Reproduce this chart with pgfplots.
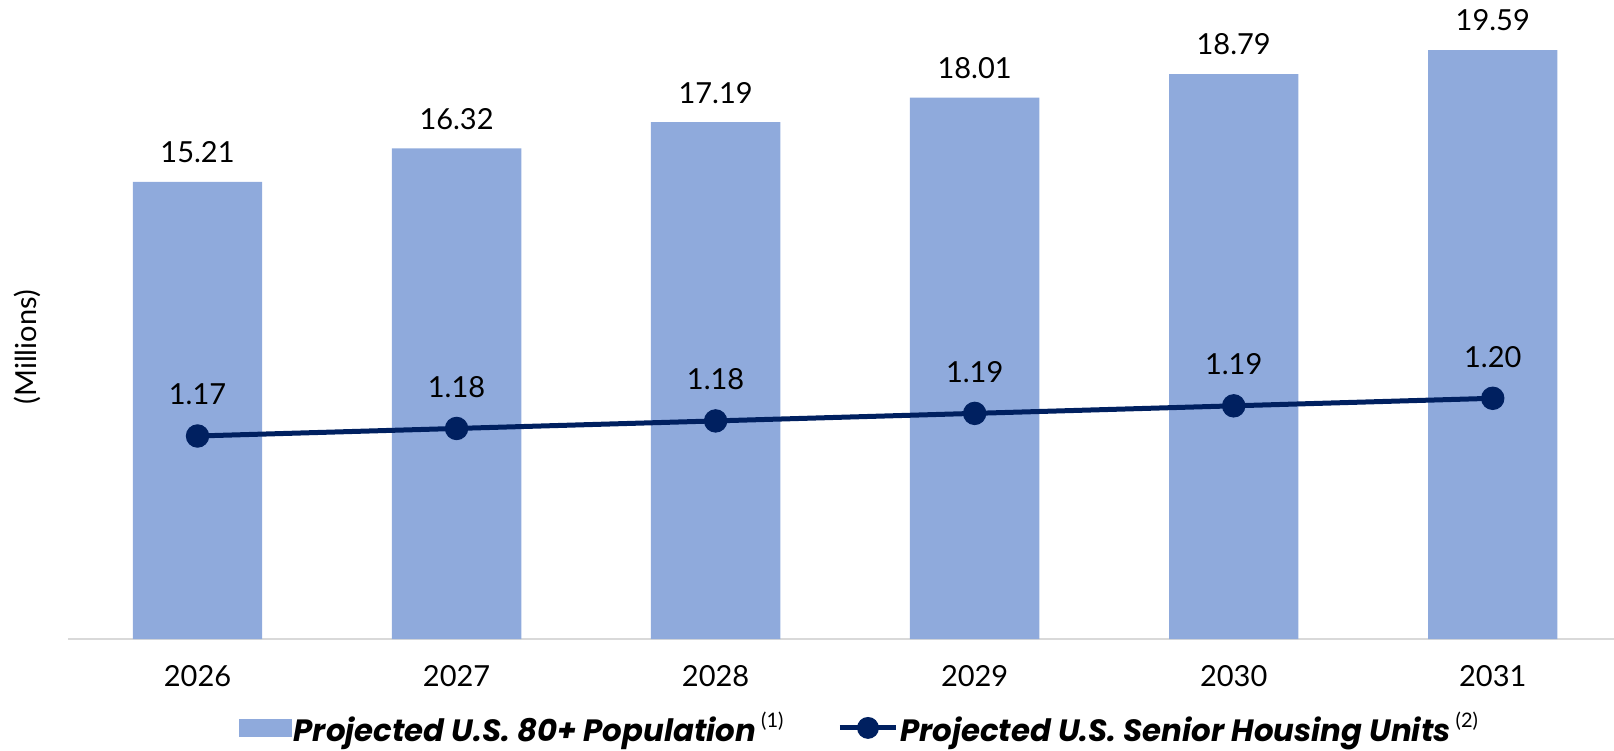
\documentclass[border=0pt]{standalone}
\usepackage{fontspec}
\setmainfont{Lato}
\newfontfamily\popfont{Poppins}
\usepackage{pgfplots}
\usepackage{pgfplotstable}
\pgfplotsset{compat=1.18}

\definecolor{barblue}{HTML}{8FAADC}
\definecolor{navy}{HTML}{002060}
\definecolor{axisgray}{HTML}{D9D9D9}

\newcommand\numfont{\fontsize{14.5bp}{17bp}\selectfont}
\newcommand\legfont{\popfont\fontsize{15.4bp}{18bp}\selectfont\bfseries\itshape}
\newcommand\note[1]{\hspace{2.5bp}\raisebox{7bp}{\rmfamily\fontsize{10bp}{11bp}\selectfont\mdseries\upshape(#1)}}

% Projected U.S. 80+ population (millions)
\pgfplotstableread{
idx year pop
0 2026 15.21
1 2027 16.32
2 2028 17.19
3 2029 18.01
4 2030 18.79
5 2031 19.59
}\poptable

% Projected U.S. senior housing units (millions)
\pgfplotstableread{
idx year units
0 2026 1.170
1 2027 1.176
2 2028 1.182
3 2029 1.188
4 2030 1.194
5 2031 1.200
}\unitstable

\begin{document}
\begin{tikzpicture}
\pgfplotsset{
  plotframe/.style={scale only axis, width=773.25bp, height=318.65bp,
    xmin=-0.5, xmax=5.47, clip=false},
  /pgf/number format/.cd, fixed, fixed zerofill, precision=2, assume math mode=true,
}
% population bars on the primary axis
\begin{axis}[plotframe, name=main,
  ymin=0, ymax=21.2,
  ybar, bar width=64.7bp,
  axis x line*=bottom, axis y line=none,
  axis line style={draw=axisgray, line width=1bp, -},
  xtick={0,...,5}, xticklabels={2026,2027,2028,2029,2030,2031},
  major tick length=0, ytick=\empty,
  xticklabel style={font=\numfont, anchor=base, yshift=-23.5bp, inner sep=0pt},
  nodes near coords,
  every node near coord/.append style={font=\numfont, text=black, anchor=base, yshift=9.6bp, inner sep=0pt},
]
\addplot[fill=barblue, draw=none] table[x=idx, y=pop] {\poptable};
\node[rotate=90, font=\numfont, inner sep=0pt] at (rel axis cs:-0.0265,0.458) {(Millions)};
\end{axis}
% senior housing units on a hidden secondary axis
\begin{axis}[plotframe,
  ymin=1.00847, ymax=1.51559,
  axis lines=none, xtick=\empty, ytick=\empty,
  nodes near coords,
  every node near coord/.append style={font=\numfont, text=black, anchor=base, yshift=15.5bp, inner sep=0pt},
  legend columns=2,
  legend cell align=left,
  legend style={at={(0.1105,-0.1395)}, anchor=west, draw=none, fill=none,
    font=\legfont, inner sep=0pt, nodes={inner sep=0pt},
    /tikz/every odd column/.append style={column sep=0.8bp},
    /tikz/every even column/.append style={column sep=27bp}},
]
\addlegendimage{legend image code/.code={\fill[barblue] (0bp,-4.4bp) rectangle (26bp,4.4bp);}}
\addlegendentry{Projected U.S. 80+ Population\note{1}}
\addplot[navy, line width=2.5bp, mark=*, mark size=5.6bp,
  mark options={fill=navy, draw=navy, line width=0.5bp},
  legend image code/.code={\draw[navy, line width=2.5bp] (0bp,0bp) -- (28bp,0bp);
    \fill[navy] (14bp,0bp) circle (4.2bp);}]
  table[x=idx, y=units] {\unitstable};
\addlegendentry{Projected U.S. Senior Housing Units\note{2}}
\end{axis}
\pgfresetboundingbox
\path[use as bounding box] (main.south west) ++(-34bp,-56bp) rectangle ++(807bp,375.5bp);
\end{tikzpicture}
\end{document}
